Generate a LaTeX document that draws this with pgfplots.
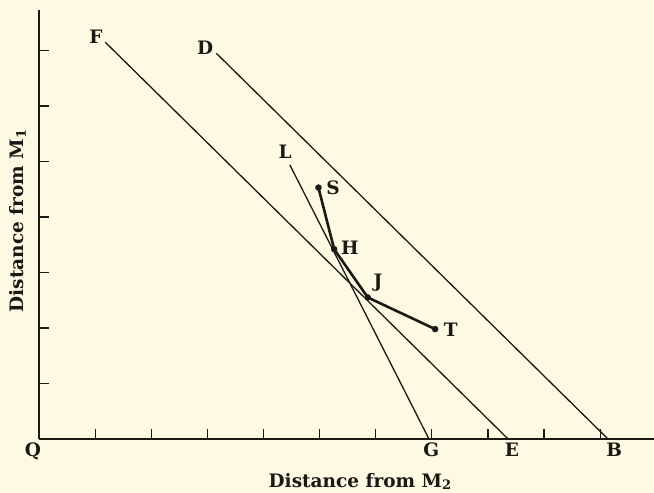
\documentclass[border=0pt]{standalone}
\usepackage{pgfplots}
\pgfplotsset{compat=1.18}
\usepackage{fontspec}
\setmainfont{DejaVu Serif}
\definecolor{paper}{RGB}{254,249,226}
\definecolor{ink}{RGB}{28,24,20}
\newcommand{\lab}{\fontsize{18.5}{20}\selectfont\bfseries}
\newcommand{\sub}[1]{\raisebox{-0.25ex}{\fontsize{13}{14}\selectfont #1}}
\tikzset{budget/.style={draw=ink, line width=1.3pt, mark=none}}
\begin{document}
\begin{tikzpicture}
\fill[paper] (-39pt,-54pt) rectangle (615pt,439pt);
\useasboundingbox (-39pt,-54pt) rectangle (615pt,439pt);
\begin{axis}[
    scale only axis, width=615pt, height=429pt,
    xmin=0, xmax=10.96, ymin=0, ymax=7.73,
    axis lines=left, axis line style={-, line width=1.8pt, ink},
    xtick={1,...,10}, ytick={1,...,7},
    xticklabels={}, yticklabels={},
    tick align=inside, major tick length=10pt,
    tick style={line width=1.2pt, ink},
    clip=false,
]
% budget lines
\addplot[budget] coordinates {(1.18,7.15) (8.36,0)};   % F-E
\addplot[budget] coordinates {(3.16,6.95) (10.14,0)};  % D-B
\addplot[budget] coordinates {(4.47,4.94) (6.95,0)};   % L-G
% S-H-J-T path
\addplot[draw=ink, line width=2.6pt, mark=*, mark size=3pt,
    mark options={draw=ink, fill=ink, line width=0.4pt}] coordinates {
    (4.98,4.53) (5.26,3.42) (5.86,2.55) (7.06,1.98)};

\begin{scope}[every node/.style={font=\lab, text=ink}]
\node at (axis cs:1.016,7.24) {F};
\node at (axis cs:2.96,7.05) {D};
\node at (axis cs:4.385,5.17) {L};
\node at (axis cs:5.24,4.52) {S};
\node at (axis cs:5.54,3.44) {H};
\node at (axis cs:6.04,2.81) {J};
\node at (axis cs:7.34,1.96) {T};
\node at (axis cs:6.99,-0.20) {G};
\node at (axis cs:8.43,-0.20) {E};
\node at (axis cs:10.25,-0.20) {B};
\node at (axis cs:-0.107,-0.22) {Q};
\node[anchor=base] at (axis cs:5.72,-0.87) {Distance from M\sub{2}};
\node[anchor=base, rotate=90] at (axis cs:-0.276,3.93) {Distance from M\sub{1}};
\end{scope}
\end{axis}
\end{tikzpicture}
\end{document}
